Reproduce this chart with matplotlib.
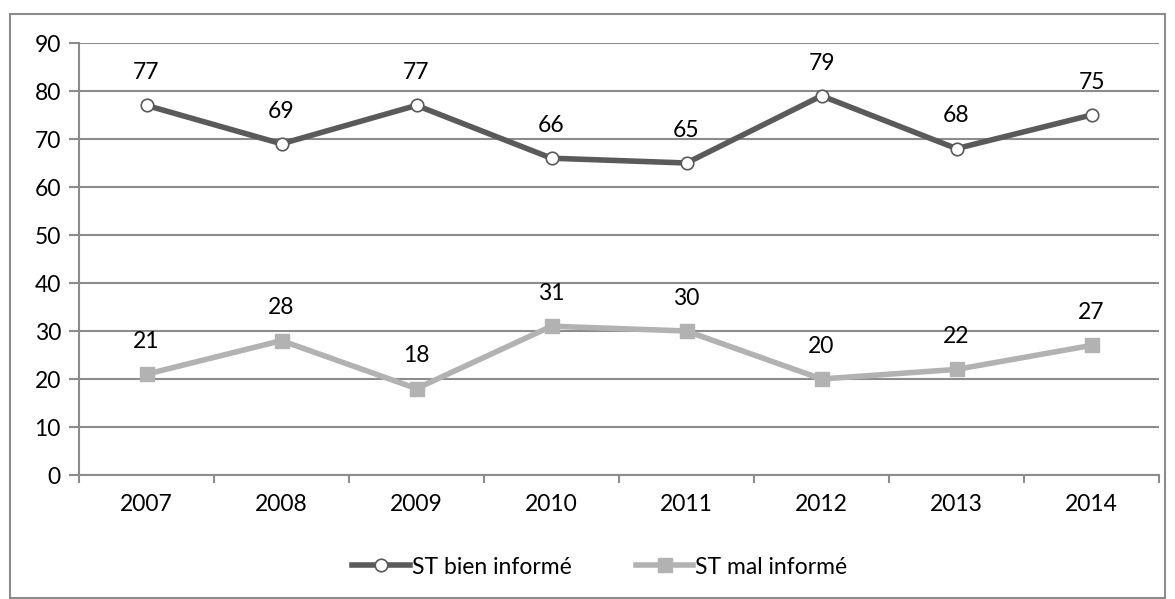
import matplotlib.pyplot as plt
from matplotlib.patches import Rectangle

years = ["2007", "2008", "2009", "2010", "2011", "2012", "2013", "2014"]
bien = [77, 69, 77, 66, 65, 79, 68, 75]
mal = [21, 28, 18, 31, 30, 20, 22, 27]
y_ticks = [0, 10, 20, 30, 40, 50, 60, 70, 80, 90]

plt.rcParams['font.family'] = ['Lato', 'DejaVu Sans']

W, H = 1175, 599
fig = plt.figure(figsize=(W / 100, H / 100), dpi=100)
fig.patches.append(Rectangle((10 / W, 1 / H), 1155 / W, 584 / H, transform=fig.transFigure,
                             fill=False, edgecolor='#8c8c8c', linewidth=1.5))

ax = fig.add_axes([79 / W, (H - 475) / H, 1080 / W, 432 / H])
x = list(range(len(years)))
grid_c = '#8c8c8c'
fs = 16.5

ax.plot(x, bien, color='#5a5a5a', linewidth=4, marker='o', markersize=9,
        markerfacecolor='white', markeredgecolor='#5a5a5a', markeredgewidth=1.2,
        label='ST bien informé', zorder=3)
ax.plot(x, mal, color='#b2b2b2', linewidth=4, marker='s', markersize=10,
        markerfacecolor='#b2b2b2', markeredgecolor='#b2b2b2',
        label='ST mal informé', zorder=3)

# data labels above each point
for xi, v in zip(x, bien):
    ax.annotate(str(v), (xi, v), xytext=(0, 16), textcoords='offset points',
                ha='center', va='bottom', fontsize=fs)
for xi, v in zip(x, mal):
    ax.annotate(str(v), (xi, v), xytext=(0, 16), textcoords='offset points',
                ha='center', va='bottom', fontsize=fs)

ax.set_xlim(-0.5, len(years) - 0.5)
ax.set_ylim(0, 90)
ax.set_yticks(y_ticks)
ax.set_yticklabels([str(t) for t in y_ticks], fontsize=fs)
ax.set_xticks(x)
ax.set_xticklabels(years, fontsize=fs)
ax.set_xticks([i - 0.5 for i in range(len(years) + 1)], minor=True)
ax.tick_params(axis='x', which='major', length=0, pad=14)
ax.tick_params(axis='x', which='minor', length=6, width=1.5, color=grid_c)
ax.tick_params(axis='y', length=7, width=1.5, color=grid_c, pad=6)

for s in ['top', 'right']:
    ax.spines[s].set_visible(False)
for s in ['left', 'bottom']:
    ax.spines[s].set_color(grid_c)
    ax.spines[s].set_linewidth(1.5)
ax.grid(axis='y', color=grid_c, linewidth=1.5)
ax.set_axisbelow(True)

fig.legend(loc='center', bbox_to_anchor=(600 / W, (H - 567) / H), ncol=2, frameon=False,
           fontsize=fs, handlelength=2.5, columnspacing=2.8, handletextpad=0.1)

fig.savefig('out.png', dpi=100)
